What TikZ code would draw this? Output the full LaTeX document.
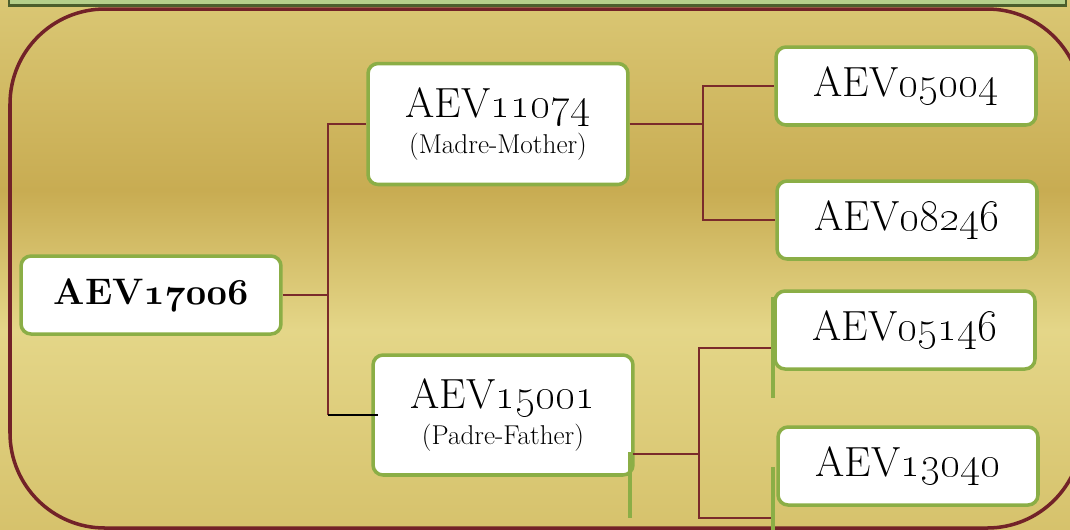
\documentclass[tikz,border=0pt]{standalone}
\usepackage{xcolor}
\usepackage{tikz}
\usetikzlibrary{positioning}
\definecolor{pedgoldtop}{RGB}{218,199,116}
\definecolor{pedgolddark}{RGB}{200,172,82}
\definecolor{pedgoldlight}{RGB}{228,214,136}
\definecolor{pedgoldlow}{RGB}{214,194,108}
\definecolor{pedframe}{HTML}{722228}
\definecolor{pedlink}{HTML}{7A2B2B}
\definecolor{pedgreen}{HTML}{8BAE46}
\definecolor{pedbar}{HTML}{B5CF8A}
\definecolor{pedbarline}{HTML}{4C5E2C}
\pgfdeclareverticalshading{pedbackdrop}{100bp}{color(0bp)=(pedgoldlow); color(25bp)=(pedgoldlow); color(43.8bp)=(pedgoldlight); color(57bp)=(pedgolddark); color(75bp)=(pedgoldtop); color(100bp)=(pedgoldtop)}
\newcommand\pedrelation{\fontsize{15.5}{17}\selectfont}
\newcommand\pedboldnums[1]{{\usefont{OML}{cmm}{b}{it}#1}}

\begin{document}
\begin{tikzpicture}[
  x=0.02cm, y=-0.02cm,
  person/.style={draw=pedgreen, line width=2pt, fill=white, rounded corners=0.2cm, minimum width=5.2cm, minimum height=1.56cm, align=center, inner sep=0pt, font=\fontsize{24}{26}\selectfont},
  parent/.style={person, minimum height=2.42cm},
  link/.style={draw=pedlink, line width=0.9pt},
  stub/.style={draw=pedgreen, line width=2.3pt}
]
\useasboundingbox (0,0) rectangle (1070,529);
\clip (0,0) rectangle (1070,529);
\shade[shading=pedbackdrop] (0,0) rectangle (1070,529);
\draw[pedframe, line width=2pt, rounded corners=1.9cm] (10,9) rectangle (1082,528);
\draw[pedbarline, fill=pedbar, line width=1.6pt] (9,-20) rectangle (1066,5.5);

% people
\node[person, font=\bfseries\fontsize{21}{24}\selectfont] (root) at (151,295) {AEV\pedboldnums{17006}};
\node[parent] (mother) at (498,124) {AEV\oldstylenums{11074}\\[-6pt]{\pedrelation (Madre-Mother)}};
\node[parent, minimum height=2.4cm] (father) at (503,415) {AEV\oldstylenums{15001}\\[-6pt]{\pedrelation (Padre-Father)}};
\node[person] (mgm) at (906,86) {AEV\oldstylenums{05004}};
\node[person] (mgf) at (907,220) {AEV\oldstylenums{08246}};
\node[person] (fgm) at (905,330) {AEV\oldstylenums{05146}};
\node[person] (fgf) at (908,466) {AEV\oldstylenums{13040}};

% forks
\coordinate (rootfork) at (328,295);
\coordinate (motherfork) at (703,124);
\coordinate (fatherout) at (633,454);
\coordinate (fatherfork) at (699,454);
\coordinate (fgmin) at (775,348);
\coordinate (fgfin) at (775,518);

\draw[link] (root) -- (rootfork);
\draw[link] (rootfork) |- (mother.west);
\draw[link] (rootfork) -- (rootfork |- father.west);
\draw[black, line width=1.4pt] (rootfork |- father.west) -- ([xshift=0.14cm]father.west);
\draw[link] (mother.east) -- (motherfork);
\draw[link] (motherfork) |- (mgm.west);
\draw[link] (motherfork) |- (mgf.west);
\draw[link] (fatherout) -- (fatherfork);
\draw[link] (fatherfork) |- (fgmin);
\draw[link] (fatherfork) |- (fgfin);

% stray green strokes
\draw[stub] (630,452) -- (630,518);
\draw[stub] (773,297) -- (773,398);
\draw[stub] (773,467) -- (773,535);
\end{tikzpicture}
\end{document}
